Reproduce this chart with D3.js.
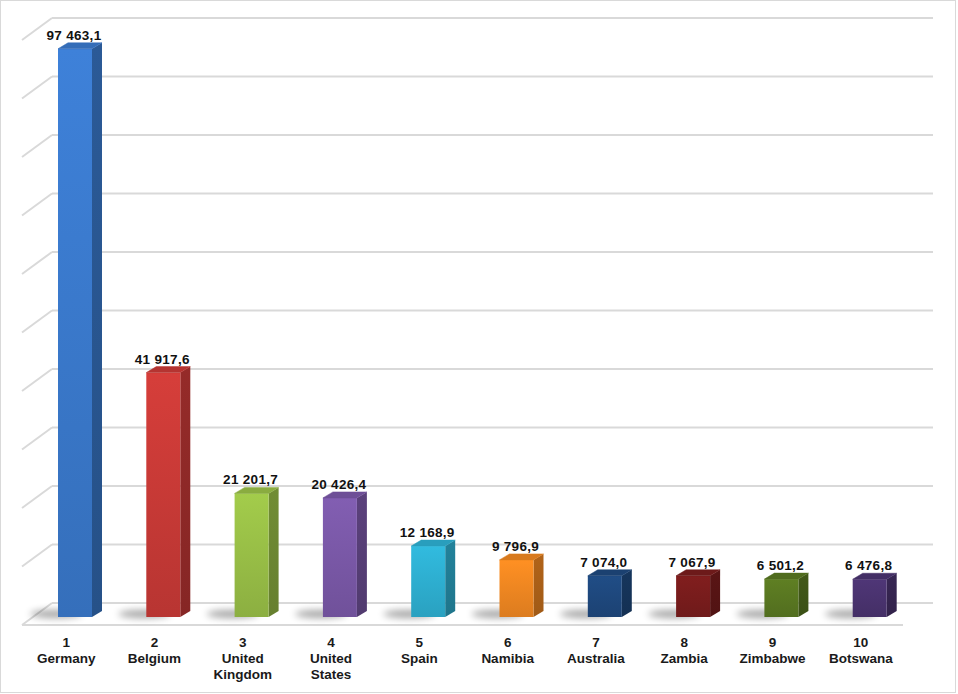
<!DOCTYPE html>
<html>
<head>
<meta charset="utf-8">
<script src="https://cdn.jsdelivr.net/npm/d3@7"></script>
<style>
  html, body { margin: 0; padding: 0; background: #fff; }
  svg { display: block; font-family: "Liberation Sans", Arial, sans-serif; }
</style>
</head>
<body>
<svg id="chart" width="958" height="694"></svg>
<script>
// Chart data
const ranks = ["1", "2", "3", "4", "5", "6", "7", "8", "9", "10"];
const countries = ["Germany", "Belgium", "United Kingdom", "United States", "Spain",
  "Namibia", "Australia", "Zambia", "Zimbabwe", "Botswana"];
const values = [97463.1, 41917.6, 21201.7, 20426.4, 12168.9, 9796.9, 7074.0, 7067.9, 6501.2, 6476.8];
const yMax = 100000;
const palette = ["#3b7cd0", "#cd3b38", "#9cc348", "#7d5aab", "#2fb3d6",
  "#f58a22", "#1f4a80", "#7c1d1d", "#5b7a22", "#4c3472"];

// Perspective offsets of the floor / wall (front-left to back)
const WALL = { dx: 30, dy: 22 };
const BAR = { w: 34, dx: 10, dy: 6, inset: 36 };

const svg = d3.select("#chart");
const defs = svg.append("defs");
const fmt = d3.formatLocale({ decimal: ",", thousands: " ", grouping: [3], currency: ["", ""] }).format(",.1f");

// Outer frame
svg.append("rect")
  .attr("x", 0.5).attr("y", 0.5).attr("width", 955).attr("height", 692)
  .attr("fill", "#fff").attr("stroke", "#d9d9d9");

// Scales
const x = d3.scaleBand().domain(countries).range([22, 905]).padding(0);
const yWall = d3.scaleLinear().domain([0, yMax]).range([603, 18]);
const yBar = d3.scaleLinear().domain([0, yMax]).range([617, 617 - 583]);

// Back wall gridlines and left wall diagonals
const grid = svg.append("g").attr("stroke", "#d9d9d9").attr("stroke-width", 2).attr("fill", "none");
yWall.ticks(10).forEach(t => {
  const yy = yWall(t);
  grid.append("line")
    .attr("x1", 22 + WALL.dx).attr("x2", 933).attr("y1", yy).attr("y2", yy);
  grid.append("line")
    .attr("x1", 22 + WALL.dx).attr("y1", yy).attr("x2", 22).attr("y2", yy + WALL.dy);
});
// Floor front edge
grid.append("line")
  .attr("x1", 22).attr("x2", 903).attr("y1", yWall(0) + WALL.dy).attr("y2", yWall(0) + WALL.dy);

// Shadow blur
defs.append("filter").attr("id", "shadowBlur")
  .attr("x", "-50%").attr("y", "-200%").attr("width", "200%").attr("height", "500%")
  .append("feGaussianBlur").attr("stdDeviation", 3.5);

// Bars
const bars = svg.append("g");
countries.forEach((c, i) => {
  const base = d3.color(palette[i]);
  const gid = "grad" + i;
  const gr = defs.append("linearGradient").attr("id", gid)
    .attr("x1", 0).attr("y1", 0).attr("x2", 0).attr("y2", 1);
  gr.append("stop").attr("offset", "0%").attr("stop-color", base.brighter(0.12));
  gr.append("stop").attr("offset", "100%").attr("stop-color", base.darker(0.3));
  const sid = "side" + i;
  const sg = defs.append("linearGradient").attr("id", sid)
    .attr("x1", 0).attr("y1", 0).attr("x2", 0).attr("y2", 1);
  sg.append("stop").attr("offset", "0%").attr("stop-color", base.darker(0.9));
  sg.append("stop").attr("offset", "100%").attr("stop-color", base.darker(1.2));

  const x0 = x(c) + BAR.inset;
  const yt = yBar(values[i]);
  const yb = yBar(0);

  // Soft shadow on the floor
  bars.append("ellipse")
    .attr("cx", x0 - 2).attr("cy", yb - 3).attr("rx", 26).attr("ry", 4)
    .attr("fill", "#000").attr("opacity", 0.35)
    .attr("filter", "url(#shadowBlur)");

  // Side face
  bars.append("path")
    .attr("d", `M${x0 + BAR.w},${yt} L${x0 + BAR.w + BAR.dx},${yt - BAR.dy} L${x0 + BAR.w + BAR.dx},${yb - BAR.dy} L${x0 + BAR.w},${yb} Z`)
    .attr("fill", `url(#${sid})`);
  // Front face
  bars.append("rect")
    .attr("x", x0).attr("y", yt).attr("width", BAR.w).attr("height", yb - yt)
    .attr("fill", `url(#${gid})`);
  // Top face
  bars.append("path")
    .attr("d", `M${x0},${yt} L${x0 + BAR.dx},${yt - BAR.dy} L${x0 + BAR.w + BAR.dx},${yt - BAR.dy} L${x0 + BAR.w},${yt} Z`)
    .attr("fill", base.darker(0.35))
    .attr("stroke", base.darker(0.35)).attr("stroke-width", 0.5).attr("stroke-linejoin", "round");

  // Value label
  svg.append("text")
    .attr("x", x0 + BAR.w / 2 - 1).attr("y", yt - 9)
    .attr("text-anchor", "middle")
    .attr("font-size", 13.5).attr("font-weight", "bold").attr("fill", "#111")
    .attr("letter-spacing", 0.3)
    .text(fmt(values[i]));
});

// Category labels: rank then country name (wrapped)
const labels = svg.append("g")
  .attr("font-size", 13.5).attr("font-weight", "bold").attr("fill", "#1a1a1a")
  .attr("text-anchor", "middle");
countries.forEach((c, i) => {
  const cx = x(c) + x.bandwidth() / 2;
  const lines = [ranks[i]].concat(c.split(" "));
  const t = labels.append("text").attr("x", cx).attr("y", 647);
  lines.forEach((ln, k) => {
    t.append("tspan").attr("x", cx).attr("dy", k === 0 ? 0 : 16).text(ln);
  });
});
</script>
</body>
</html>
